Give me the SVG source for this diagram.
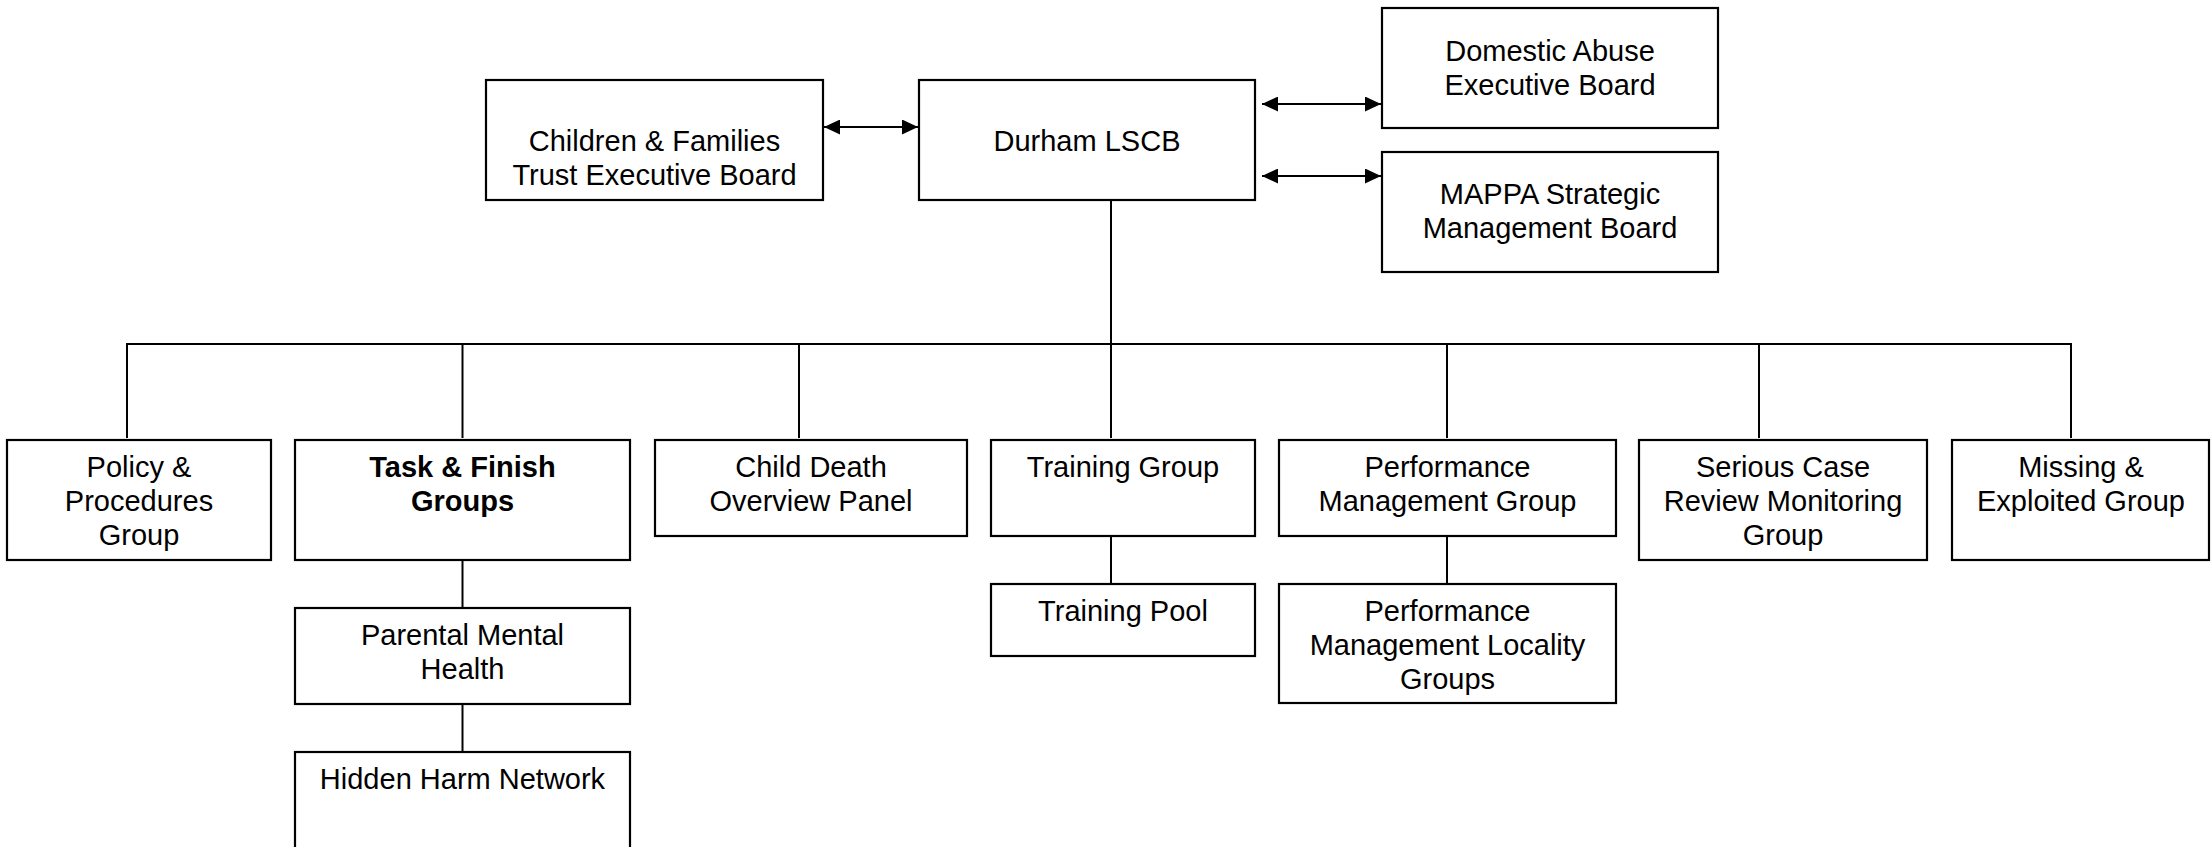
<svg xmlns="http://www.w3.org/2000/svg" width="2211" height="847" viewBox="0 0 2211 847">
<style>
.box{fill:#fff;stroke:#000;stroke-width:2.2}
.t{font-family:"Liberation Sans",Arial,sans-serif;font-size:29px;fill:#000;text-anchor:middle}
.b{font-weight:bold}
.ln{stroke:#000;stroke-width:2;fill:none}
</style>
<defs>
<marker id="ah" markerUnits="userSpaceOnUse" markerWidth="16" markerHeight="15" refX="16" refY="7.5" orient="auto-start-reverse">
<path d="M0,0 L16,7.5 L0,15 Z" fill="#000"/>
</marker>
</defs>
<rect width="2211" height="847" fill="#fff"/>
<g id="connectors">
<line class="ln" x1="824" y1="127" x2="918" y2="127" marker-start="url(#ah)" marker-end="url(#ah)"/>
<line class="ln" x1="1262" y1="104" x2="1381" y2="104" marker-start="url(#ah)" marker-end="url(#ah)"/>
<line class="ln" x1="1262" y1="176" x2="1381" y2="176" marker-start="url(#ah)" marker-end="url(#ah)"/>
<line class="ln" x1="1111" y1="200" x2="1111" y2="344"/>
<line class="ln" x1="126" y1="344" x2="2072" y2="344"/>
<line class="ln" x1="127" y1="344" x2="127" y2="438"/>
<line class="ln" x1="462.5" y1="344" x2="462.5" y2="438"/>
<line class="ln" x1="799" y1="344" x2="799" y2="438"/>
<line class="ln" x1="1111" y1="344" x2="1111" y2="438"/>
<line class="ln" x1="1447" y1="344" x2="1447" y2="438"/>
<line class="ln" x1="1759" y1="344" x2="1759" y2="438"/>
<line class="ln" x1="2071" y1="344" x2="2071" y2="438"/>
<line class="ln" x1="462.5" y1="560" x2="462.5" y2="608"/>
<line class="ln" x1="462.5" y1="704" x2="462.5" y2="752"/>
<line class="ln" x1="1111" y1="536" x2="1111" y2="584"/>
<line class="ln" x1="1447" y1="536" x2="1447" y2="584"/>
</g>
<g id="children-families">
<rect class="box" x="486" y="80" width="337" height="120"/>
<text class="t" x="654.5" y="151">Children &amp; Families</text>
<text class="t" x="654.5" y="185">Trust Executive Board</text>
</g>
<g id="durham-lscb">
<rect class="box" x="919" y="80" width="336" height="120"/>
<text class="t" x="1087" y="151">Durham LSCB</text>
</g>
<g id="domestic-abuse">
<rect class="box" x="1382" y="8" width="336" height="120"/>
<text class="t" x="1550" y="61">Domestic Abuse</text>
<text class="t" x="1550" y="95">Executive Board</text>
</g>
<g id="mappa">
<rect class="box" x="1382" y="152" width="336" height="120"/>
<text class="t" x="1550" y="204">MAPPA Strategic</text>
<text class="t" x="1550" y="238">Management Board</text>
</g>
<g id="policy">
<rect class="box" x="7" y="440" width="264" height="120"/>
<text class="t" x="139" y="477">Policy &amp;</text>
<text class="t" x="139" y="511">Procedures</text>
<text class="t" x="139" y="545">Group</text>
</g>
<g id="task-finish">
<rect class="box" x="295" y="440" width="335" height="120"/>
<text class="t b" x="462.5" y="477">Task &amp; Finish</text>
<text class="t b" x="462.5" y="511">Groups</text>
</g>
<g id="parental-mental-health">
<rect class="box" x="295" y="608" width="335" height="96"/>
<text class="t" x="462.5" y="645">Parental Mental</text>
<text class="t" x="462.5" y="679">Health</text>
</g>
<g id="hidden-harm">
<rect class="box" x="295" y="752" width="335" height="110"/>
<text class="t" x="462.5" y="789">Hidden Harm Network</text>
</g>
<g id="child-death">
<rect class="box" x="655" y="440" width="312" height="96"/>
<text class="t" x="811" y="477">Child Death</text>
<text class="t" x="811" y="511">Overview Panel</text>
</g>
<g id="training-group">
<rect class="box" x="991" y="440" width="264" height="96"/>
<text class="t" x="1123" y="477">Training Group</text>
</g>
<g id="training-pool">
<rect class="box" x="991" y="584" width="264" height="72"/>
<text class="t" x="1123" y="621">Training Pool</text>
</g>
<g id="performance-management">
<rect class="box" x="1279" y="440" width="337" height="96"/>
<text class="t" x="1447.5" y="477">Performance</text>
<text class="t" x="1447.5" y="511">Management Group</text>
</g>
<g id="performance-locality">
<rect class="box" x="1279" y="584" width="337" height="119"/>
<text class="t" x="1447.5" y="621">Performance</text>
<text class="t" x="1447.5" y="655">Management Locality</text>
<text class="t" x="1447.5" y="689">Groups</text>
</g>
<g id="serious-case-review">
<rect class="box" x="1639" y="440" width="288" height="120"/>
<text class="t" x="1783" y="477">Serious Case</text>
<text class="t" x="1783" y="511">Review Monitoring</text>
<text class="t" x="1783" y="545">Group</text>
</g>
<g id="missing-exploited">
<rect class="box" x="1952" y="440" width="257" height="120"/>
<text class="t" x="2081" y="477">Missing &amp;</text>
<text class="t" x="2081" y="511">Exploited Group</text>
</g>
</svg>
